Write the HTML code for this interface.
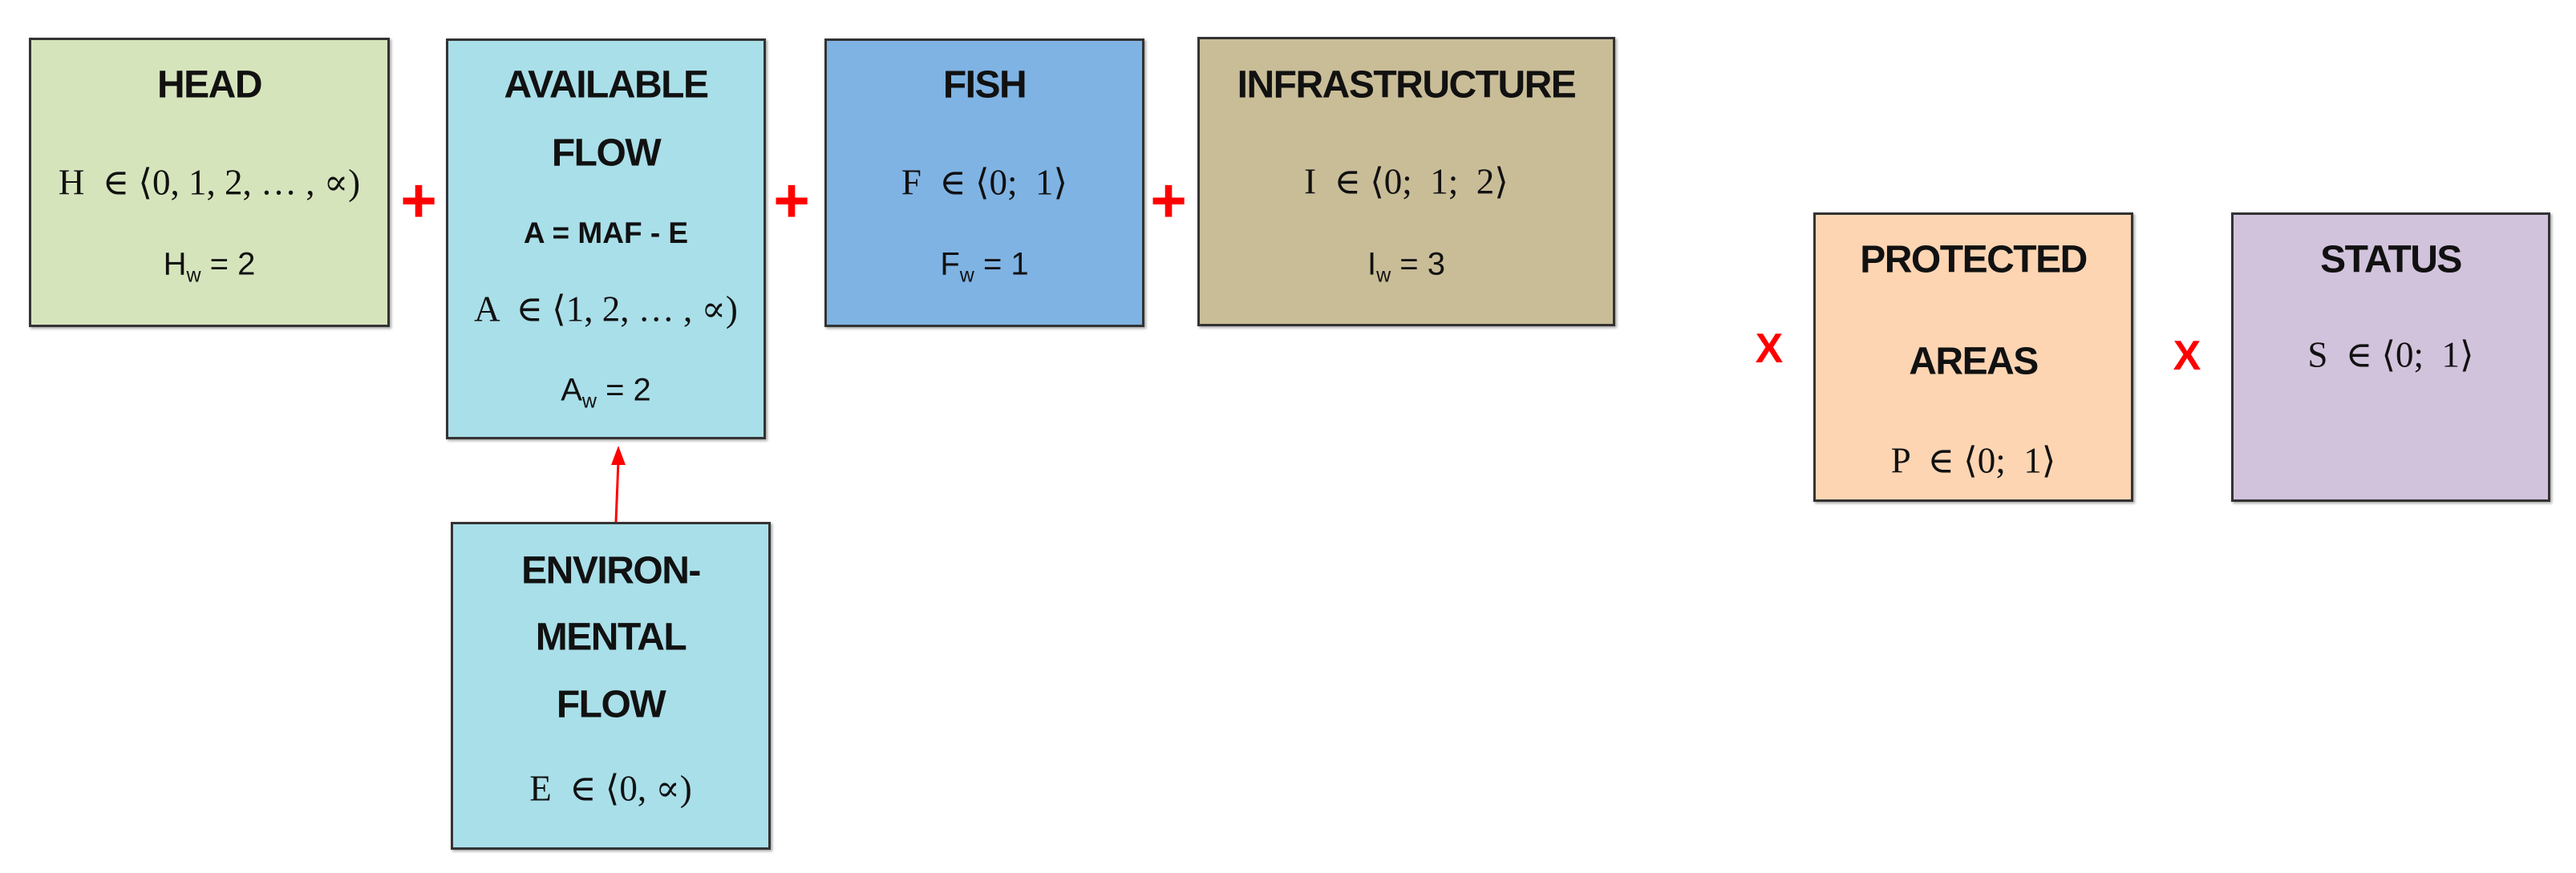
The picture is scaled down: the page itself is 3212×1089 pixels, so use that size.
<!DOCTYPE html>
<html><head><meta charset="utf-8"><style>
body{margin:0;width:3212px;height:1089px;background:#fff;position:relative;overflow:hidden;font-family:"Liberation Sans",sans-serif}
.b{position:absolute;border:3px solid #333;box-sizing:border-box;box-shadow:2px 2px 3px rgba(0,0,0,.35)}
.t{position:absolute;left:0;right:0;text-align:center;transform:translateY(-50%);white-space:nowrap;color:#111}
.h{font-weight:bold;font-size:48px;letter-spacing:-1.5px}
.m{font-family:"Liberation Serif","DejaVu Serif",serif;font-size:45px}
.w{font-size:40px}
.f{font-weight:bold;font-size:37px}
.op{position:absolute;color:#f00;font-weight:bold;transform:translate(-50%,-50%)}
</style></head><body>
<div class="b" style="left:36px;top:47px;width:450px;height:361px;background:#d6e4bc">
<div class="t h" style="top:56px">HEAD</div>
<div class="t m" style="top:177px">H &nbsp;∈ ⟨0, 1, 2, … , ∝)</div>
<div class="t w" style="top:283px">H<sub style="font-size:25px">w</sub> = 2</div>
</div>
<div class="b" style="left:556px;top:48px;width:399px;height:500px;background:#a9dfe9">
<div class="t h" style="top:55px">AVAILABLE</div>
<div class="t h" style="top:140px">FLOW</div>
<div class="t f" style="top:240px">A = MAF - E</div>
<div class="t m" style="top:334px">A &nbsp;∈ ⟨1, 2, … , ∝)</div>
<div class="t w" style="top:439px">A<sub style="font-size:25px">w</sub> = 2</div>
</div>
<div class="b" style="left:1028px;top:48px;width:399px;height:360px;background:#7fb3e3">
<div class="t h" style="top:55px">FISH</div>
<div class="t m" style="top:176px">F &nbsp;∈ ⟨0; &nbsp;1⟩</div>
<div class="t w" style="top:282px">F<sub style="font-size:25px">w</sub> = 1</div>
</div>
<div class="b" style="left:1493px;top:46px;width:521px;height:361px;background:#c9bd98">
<div class="t h" style="top:57px">INFRASTRUCTURE</div>
<div class="t m" style="top:177px">I &nbsp;∈ ⟨0; &nbsp;1; &nbsp;2⟩</div>
<div class="t w" style="top:284px">I<sub style="font-size:25px">w</sub> = 3</div>
</div>
<div class="b" style="left:562px;top:651px;width:399px;height:409px;background:#a9dfe9">
<div class="t h" style="top:58px">ENVIRON-</div>
<div class="t h" style="top:141px">MENTAL</div>
<div class="t h" style="top:225px">FLOW</div>
<div class="t m" style="top:329px">E &nbsp;∈ ⟨0, ∝)</div>
</div>
<div class="b" style="left:2261px;top:265px;width:399px;height:361px;background:#fdd5b3">
<div class="t h" style="top:56px">PROTECTED</div>
<div class="t h" style="top:183px">AREAS</div>
<div class="t m" style="top:306px">P &nbsp;∈ ⟨0; &nbsp;1⟩</div>
</div>
<div class="b" style="left:2782px;top:265px;width:398px;height:361px;background:#d2c3dd">
<div class="t h" style="top:56px">STATUS</div>
<div class="t m" style="top:174px">S &nbsp;∈ ⟨0; &nbsp;1⟩</div>
</div>
<svg style="position:absolute;left:0;top:0" width="3212" height="1089">
<line x1="768" y1="651" x2="771" y2="575" stroke="#f00" stroke-width="3"/>
<polygon points="771,556 762,580 780,580" fill="#f00"/>
</svg>
<div class="op" style="left:522px;top:250px;font-size:78px">+</div>
<div class="op" style="left:987px;top:250px;font-size:78px">+</div>
<div class="op" style="left:1457px;top:250px;font-size:78px">+</div>
<div class="op" style="left:2206px;top:435px;font-size:52px">X</div>
<div class="op" style="left:2727px;top:444px;font-size:52px">X</div>
</body></html>
